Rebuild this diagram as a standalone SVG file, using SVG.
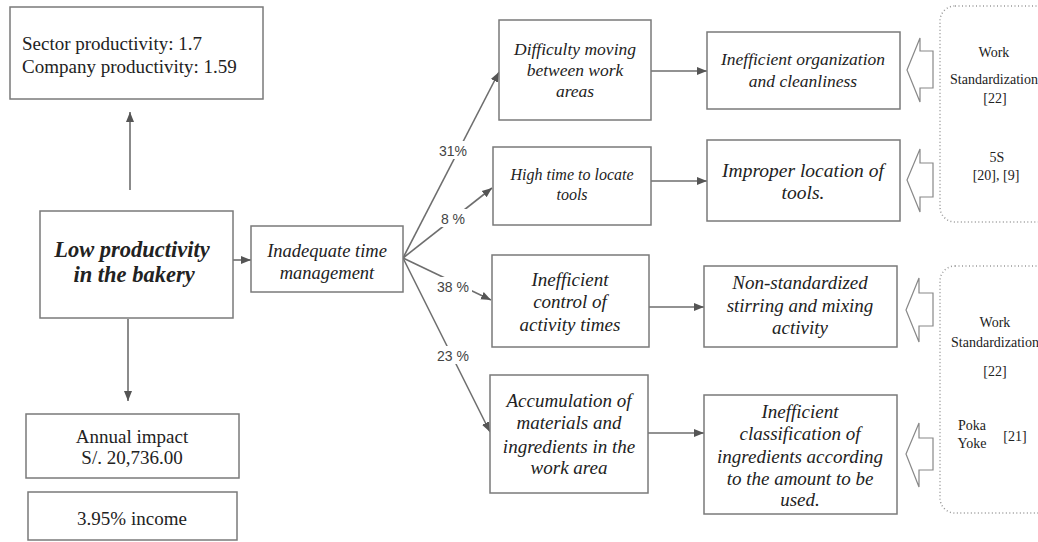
<svg xmlns="http://www.w3.org/2000/svg" width="1038" height="542" viewBox="0 0 1038 542">
<style>
.box{fill:#fff;stroke:#7a7a7a;stroke-width:1.5}
.t{font-family:"Liberation Serif","Times New Roman",serif;fill:#222;text-anchor:middle}
.i{font-style:italic}
.b{font-weight:bold}
.c{stroke:#6e6e6e;stroke-width:1.6;fill:none;marker-end:url(#ah)}
.lbl{font-family:"Liberation Sans",Arial,sans-serif;font-size:14px;fill:#444;text-anchor:middle}
.hol{fill:#fff;stroke:#888;stroke-width:1.2}
.dot{fill:none;stroke:#999;stroke-width:1.5;stroke-dasharray:1 2.5}
</style>
<defs>
<marker id="ah" viewBox="0 0 10 10" refX="10" refY="5" markerWidth="10" markerHeight="10" markerUnits="userSpaceOnUse" orient="auto">
<path d="M0,1 L10,5 L0,9 Z" fill="#555"/>
</marker>
</defs>
<rect width="1038" height="542" fill="#fff"/>

<g id="connectors">
<line class="c" x1="130" y1="190" x2="130" y2="112"/>
<line class="c" x1="128" y1="319" x2="128" y2="401"/>
<line class="c" x1="233" y1="260" x2="251" y2="260"/>
<line class="c" x1="403" y1="258" x2="499" y2="72"/>
<line class="c" x1="403" y1="258" x2="492" y2="188"/>
<line class="c" x1="403" y1="258" x2="491" y2="300"/>
<line class="c" x1="403" y1="258" x2="490" y2="432"/>
<line class="c" x1="651" y1="71" x2="707" y2="71"/>
<line class="c" x1="651" y1="181" x2="707" y2="181"/>
<line class="c" x1="649" y1="307" x2="704" y2="307"/>
<line class="c" x1="648" y1="433" x2="704" y2="433"/>
<rect x="437" y="141" width="32" height="18" fill="#fff"/>
<text class="lbl" x="453" y="156">31%</text>
<rect x="437" y="209" width="32" height="18" fill="#fff"/>
<text class="lbl" x="453" y="224">8 %</text>
<rect x="434" y="277" width="38" height="18" fill="#fff"/>
<text class="lbl" x="453" y="292">38 %</text>
<rect x="434" y="346" width="38" height="18" fill="#fff"/>
<text class="lbl" x="453" y="361">23 %</text>
</g>

<g id="sector">
<rect class="box" x="10" y="7" width="253" height="92"/>
<text class="t" style="text-anchor:start" font-size="19" x="22" y="50">Sector productivity: 1.7</text>
<text class="t" style="text-anchor:start" font-size="19" x="22" y="73">Company productivity: 1.59</text>
</g>

<g id="low">
<rect class="box" x="40" y="211" width="193" height="107"/>
<text class="t i b" font-size="22.5" x="132" y="257">Low productivity</text>
<text class="t i b" font-size="22.5" x="134" y="282">in the bakery</text>
</g>

<g id="annual">
<rect class="box" x="26" y="414" width="213" height="64"/>
<text class="t" font-size="19" x="132" y="443">Annual impact</text>
<text class="t" font-size="19" x="132" y="464">S/. 20,736.00</text>
</g>

<g id="income">
<rect class="box" x="28" y="492" width="209" height="48"/>
<text class="t" font-size="19" x="132" y="525">3.95% income</text>
</g>

<g id="inadequate">
<rect class="box" x="251" y="226" width="152" height="66"/>
<text class="t i" font-size="18.5" x="327" y="257">Inadequate time</text>
<text class="t i" font-size="18.5" x="327" y="279">management</text>
</g>

<g id="difficulty">
<rect class="box" x="499" y="20" width="152" height="100"/>
<text class="t i" font-size="17.5" x="575" y="55">Difficulty moving</text>
<text class="t i" font-size="17.5" x="575" y="76">between work</text>
<text class="t i" font-size="17.5" x="575" y="97">areas</text>
</g>

<g id="hightime">
<rect class="box" x="493" y="147" width="158" height="78"/>
<text class="t i" font-size="16" x="572" y="180">High time to locate</text>
<text class="t i" font-size="16" x="572" y="200">tools</text>
</g>

<g id="control">
<rect class="box" x="492" y="255" width="157" height="92"/>
<text class="t i" font-size="19" x="570" y="286">Inefficient</text>
<text class="t i" font-size="19" x="570" y="308">control of</text>
<text class="t i" font-size="19" x="570" y="331">activity times</text>
</g>

<g id="accumulation">
<rect class="box" x="490" y="375" width="158" height="118"/>
<text class="t i" font-size="19" x="569" y="407">Accumulation of</text>
<text class="t i" font-size="19" x="569" y="429">materials and</text>
<text class="t i" font-size="19" x="569" y="453">ingredients in the</text>
<text class="t i" font-size="19" x="569" y="474">work area</text>
</g>

<g id="organization">
<rect class="box" x="707" y="32" width="193" height="77"/>
<text class="t i" font-size="17.5" x="803" y="65">Inefficient organization</text>
<text class="t i" font-size="17.5" x="803" y="87">and cleanliness</text>
</g>

<g id="location">
<rect class="box" x="707" y="140" width="193" height="81"/>
<text class="t i" font-size="19.5" x="803" y="177">Improper location of</text>
<text class="t i" font-size="19.5" x="803" y="199">tools.</text>
</g>

<g id="nonstd">
<rect class="box" x="704" y="266" width="193" height="81"/>
<text class="t i" font-size="19" x="800" y="289">Non-standardized</text>
<text class="t i" font-size="19" x="800" y="312">stirring and mixing</text>
<text class="t i" font-size="19" x="800" y="334">activity</text>
</g>

<g id="classification">
<rect class="box" x="704" y="395" width="193" height="119"/>
<text class="t i" font-size="19" x="800" y="418">Inefficient</text>
<text class="t i" font-size="19" x="800" y="440">classification of</text>
<text class="t i" font-size="19" x="800" y="463">ingredients according</text>
<text class="t i" font-size="19" x="800" y="485">to the amount to be</text>
<text class="t i" font-size="19" x="800" y="506">used.</text>
</g>

<g id="hollow-arrows">
<polygon class="hol" points="907,70 920,38 920,51 933,51 933,88 920,88 920,102"/>
<polygon class="hol" points="907,180 920,149 920,163 933,163 933,197 920,197 920,212"/>
<polygon class="hol" points="906,310 919,278 919,293 933,293 933,326 919,326 919,342"/>
<polygon class="hol" points="906,454 919,423 919,438 933,438 933,470 919,470 919,487"/>
</g>

<g id="solutions-top">
<rect class="dot" x="940" y="6" width="120" height="216" rx="15"/>
<text class="t" font-size="14" x="994" y="57">Work</text>
<text class="t" font-size="14" x="994" y="84">Standardization</text>
<text class="t" font-size="14" x="995" y="103">[22]</text>
<text class="t" font-size="14" x="997" y="162">5S</text>
<text class="t" font-size="14" x="996" y="180">[20], [9]</text>
</g>

<g id="solutions-bottom">
<rect class="dot" x="940" y="266" width="120" height="247" rx="15"/>
<text class="t" font-size="14" x="995" y="327">Work</text>
<text class="t" font-size="14" x="995" y="347">Standardization</text>
<text class="t" font-size="14" x="995" y="376">[22]</text>
<text class="t" font-size="14" x="972" y="430">Poka</text>
<text class="t" font-size="14" x="972" y="448">Yoke</text>
<text class="t" font-size="14" x="1015" y="441">[21]</text>
</g>
</svg>
